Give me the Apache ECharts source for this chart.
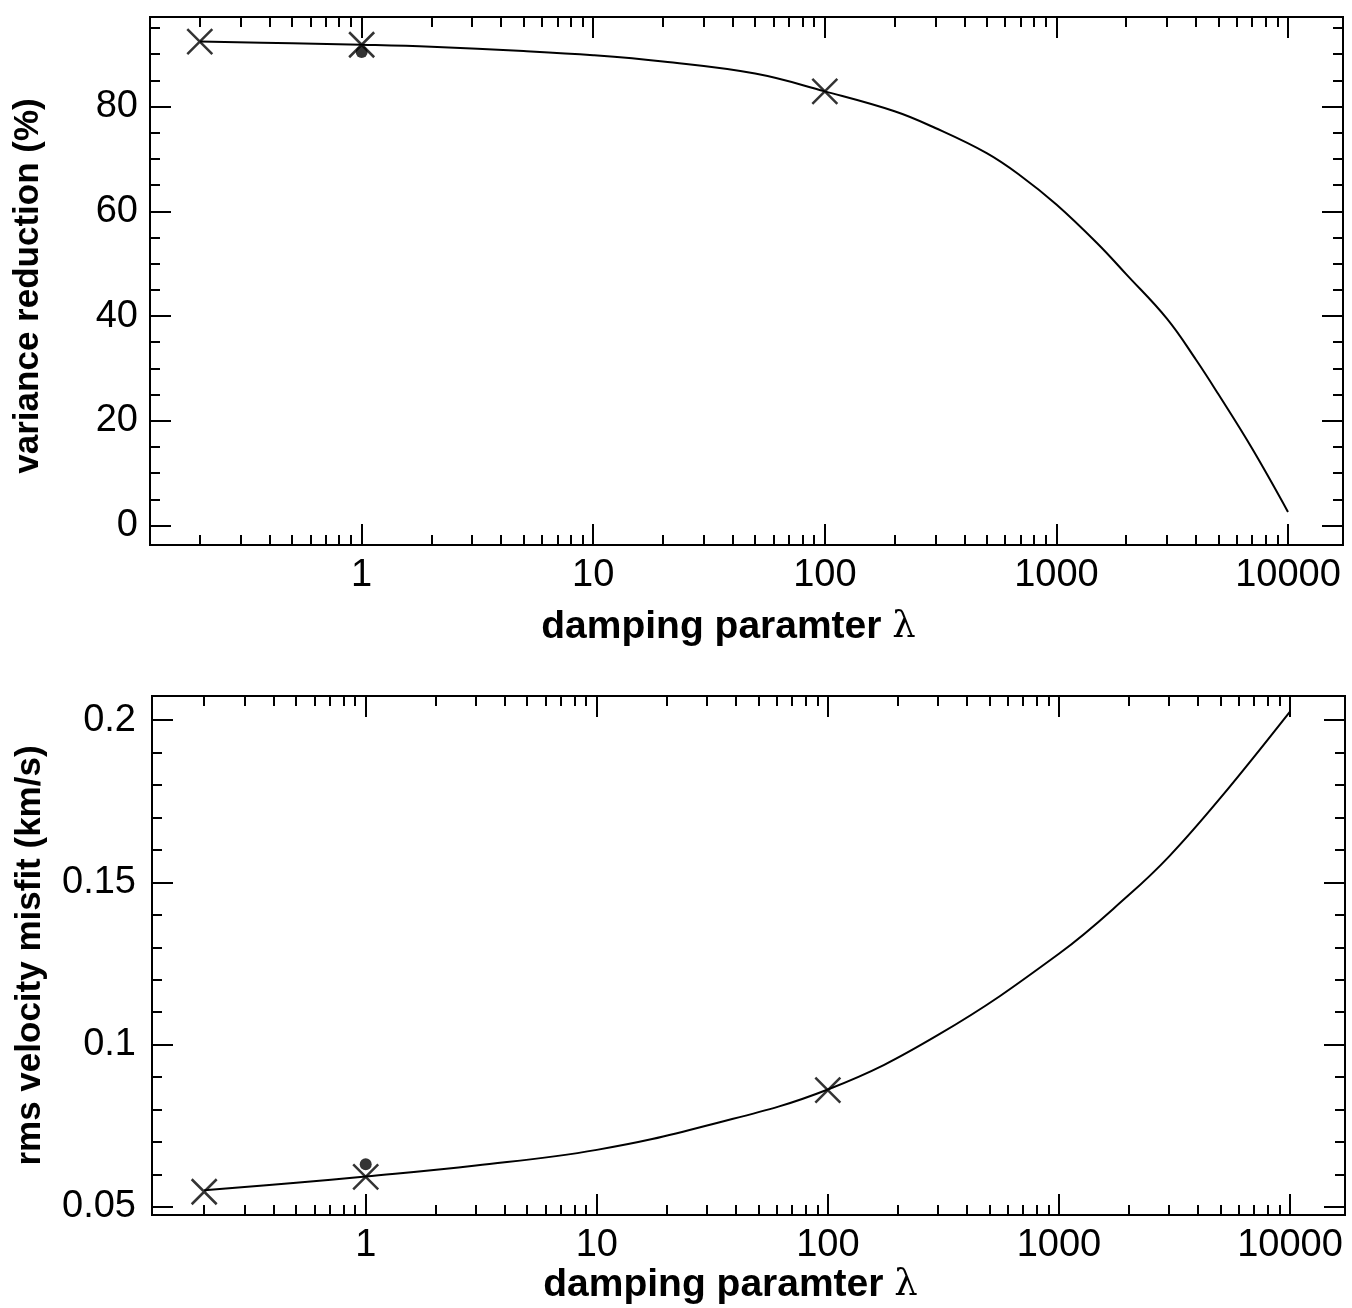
<!DOCTYPE html>
<html><head><meta charset="utf-8">
<script src="https://cdn.jsdelivr.net/npm/echarts@6/dist/echarts.min.js"></script>
<style>html,body{margin:0;padding:0;background:#fff}#c{width:1352px;height:1308px}</style>
</head><body><div id="c"></div>
<script>
// ---- data ----
const lambdaVar = [0.2, 0.5, 1, 2, 5, 10, 20, 50, 100, 200, 300, 500, 700, 1000, 1500, 2000, 3000, 4000, 5000, 7000, 10000];
const varianceCurve = [92.4, 92.1, 91.8, 91.4, 90.6, 89.8, 88.6, 86.3, 82.9, 79.1, 75.9, 71.1, 66.8, 61.3, 53.9, 48.0, 39.5, 31.7, 25.1, 14.7, 2.6];
const lambdaMisfit = [0.2, 0.5, 1, 3, 10, 30, 100, 300, 1000, 2000, 3000, 5000, 10000];
const misfitCurve = [0.0552, 0.0575, 0.0594, 0.0628, 0.0676, 0.0751, 0.0862, 0.1030, 0.1280, 0.1460, 0.1580, 0.1760, 0.2026];
const markerLambda = [0.2, 1, 100];
const varianceMarkers = [92.4, 91.8, 82.9];
const misfitMarkers = [0.0547, 0.0593, 0.086];
const dotLambda = [1];
const varianceDot = [90.4];
const misfitDot = [0.0632];
const xMajorTicks = [1, 10, 100, 1000, 10000];
const xMinorTicks = [0.2,0.3,0.4,0.5,0.6,0.7,0.8,0.9, 2,3,4,5,6,7,8,9, 20,30,40,50,60,70,80,90, 200,300,400,500,600,700,800,900, 2000,3000,4000,5000,6000,7000,8000,9000];
const varMajorTicks = [0, 20, 40, 60, 80];
const varMinorTicks = [5,10,15,25,30,35,45,50,55,65,70,75,85,90,95];
const misMajorTicks = [0.05, 0.1, 0.15, 0.2];
const misMinorTicks = [0.06,0.07,0.08,0.09,0.11,0.12,0.13,0.14,0.16,0.17,0.18,0.19];
const xTitle = 'damping paramter ';
const yTitleTop = 'variance reduction (%)';
const yTitleBottom = 'rms velocity misfit (km/s)';

const FONT = 'Liberation Sans';
const crossPath = 'path://M0,0L10,10M10,0L0,10';

function xAxes(g, min, max, nameGap) {
  const base = {type: 'log', logBase: 10, gridIndex: g, min: min, max: max,
    axisLine: {show: false, onZero: false}, splitLine: {show: false}, minorTick: {show: false}};
  const tick = (vals, len) => ({show: true, inside: true, length: len, customValues: vals,
    lineStyle: {color: '#000', width: 2}});
  return [
    Object.assign({}, base, {position: 'bottom', axisTick: tick(xMajorTicks, 21),
      axisLabel: {show: true, customValues: xMajorTicks, margin: 12, fontSize: 38, fontFamily: FONT, color: '#000',
        formatter: v => String(Math.round(v))},
      name: '{b|' + xTitle + '}{l|λ}', nameLocation: 'middle', nameGap: nameGap,
      nameTextStyle: {padding: [0, 36, 0, 0], rich: {
        b: {fontSize: 39, fontWeight: 'bold', fontFamily: FONT, color: '#000'},
        l: {fontSize: 37, fontFamily: 'DejaVu Serif', color: '#000'}}}}),
    Object.assign({}, base, {position: 'bottom', axisTick: tick(xMinorTicks, 10), axisLabel: {show: false}}),
    Object.assign({}, base, {position: 'top', axisTick: tick(xMajorTicks, 21), axisLabel: {show: false}}),
    Object.assign({}, base, {position: 'top', axisTick: tick(xMinorTicks, 10), axisLabel: {show: false}})
  ];
}
function yAxes(g, min, max, major, minor, name, margin, nameGap, namePad) {
  const base = {type: 'value', gridIndex: g, min: min, max: max,
    axisLine: {show: false, onZero: false}, splitLine: {show: false}};
  const tick = (vals, len) => ({show: true, inside: true, length: len, customValues: vals,
    lineStyle: {color: '#000', width: 2}});
  return [
    Object.assign({}, base, {position: 'left', axisTick: tick(major, 21),
      axisLabel: {show: true, customValues: major, margin: margin, fontSize: 38, fontFamily: FONT, color: '#000',
        formatter: v => String(parseFloat(v.toPrecision(6)))},
      name: name, nameLocation: 'middle', nameGap: nameGap,
      nameTextStyle: {fontSize: 35, fontWeight: 'bold', fontFamily: FONT, color: '#000', padding: namePad}}),
    Object.assign({}, base, {position: 'left', axisTick: tick(minor, 10), axisLabel: {show: false}}),
    Object.assign({}, base, {position: 'right', axisTick: tick(major, 21), axisLabel: {show: false}}),
    Object.assign({}, base, {position: 'right', axisTick: tick(minor, 10), axisLabel: {show: false}})
  ];
}
const pairs = (xs, ys) => xs.map((x, i) => [x, ys[i]]);

const chart = echarts.init(document.getElementById('c'), null, {renderer: 'canvas'});
chart.setOption({
  backgroundColor: '#fff',
  animation: false,
  grid: [
    {left: 150, top: 17, width: 1193, height: 528, show: true, borderColor: '#000', borderWidth: 2, backgroundColor: 'transparent'},
    {left: 152, top: 696, width: 1193, height: 519, show: true, borderColor: '#000', borderWidth: 2, backgroundColor: 'transparent'}
  ],
  xAxis: [].concat(xAxes(0, 0.1219, 17280, 63), xAxes(1, 0.1189, 17300, 50)),
  yAxis: [].concat(
    yAxes(0, -3.72, 97.1, varMajorTicks, varMinorTicks, yTitleTop, 12, 104, [0, 10, 0, 0]),
    yAxes(1, 0.04754, 0.2074, misMajorTicks, misMinorTicks, yTitleBottom, 16, 104, [0, 0, 0, 0])),
  series: [
    {type: 'line', xAxisIndex: 0, yAxisIndex: 0, data: pairs(lambdaVar, varianceCurve), smooth: 0.4,
      showSymbol: false, lineStyle: {color: '#000', width: 2}},
    {type: 'scatter', xAxisIndex: 0, yAxisIndex: 0, data: pairs(markerLambda, varianceMarkers), symbol: crossPath,
      symbolSize: 25, itemStyle: {color: 'none', borderColor: '#000', borderWidth: 2.5}, z: 5},
    {type: 'scatter', xAxisIndex: 0, yAxisIndex: 0, data: pairs(dotLambda, varianceDot), symbol: 'circle',
      symbolSize: 12, itemStyle: {color: '#000'}, z: 6},
    {type: 'line', xAxisIndex: 4, yAxisIndex: 4, data: pairs(lambdaMisfit, misfitCurve), smooth: 0.4,
      showSymbol: false, lineStyle: {color: '#000', width: 2}},
    {type: 'scatter', xAxisIndex: 4, yAxisIndex: 4, data: pairs(markerLambda, misfitMarkers), symbol: crossPath,
      symbolSize: 25, itemStyle: {color: 'none', borderColor: '#000', borderWidth: 2.5}, z: 5},
    {type: 'scatter', xAxisIndex: 4, yAxisIndex: 4, data: pairs(dotLambda, misfitDot), symbol: 'circle',
      symbolSize: 12, itemStyle: {color: '#000'}, z: 6}
  ]
});
</script></body></html>
